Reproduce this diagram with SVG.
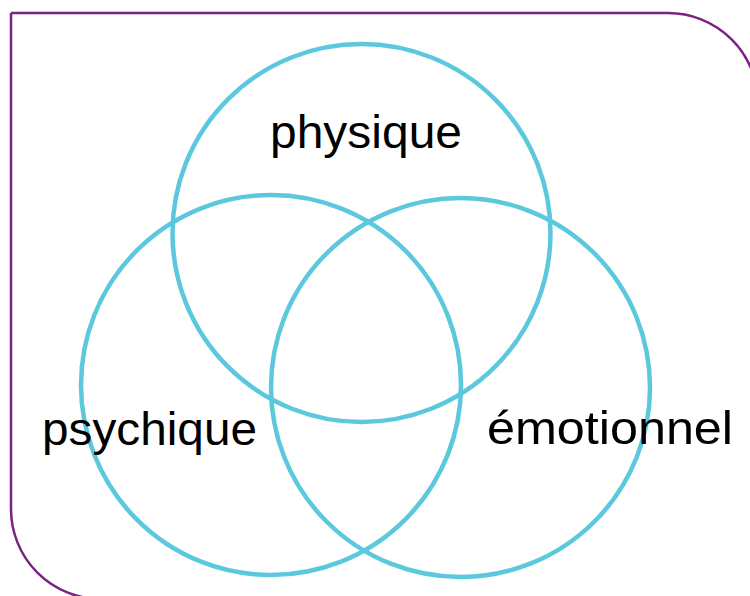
<svg xmlns="http://www.w3.org/2000/svg" width="750" height="596" viewBox="0 0 750 596">
<style>
.frame{fill:none;stroke:#7B2383;stroke-width:2.5}
.c{fill:none;stroke:#5BC8DD;stroke-width:4.5}
.t{font-family:"Liberation Sans",Arial,sans-serif;font-size:47px;fill:#000}
</style>
<rect width="750" height="596" fill="#fff"/>
<path class="frame" d="M11,13 H668 A90,90 0 0 1 758,103 V620 M11,13 V509 A90,90 0 0 0 101,599 H760"/>
<g id="physique"><circle class="c" cx="361.5" cy="233" r="189"/></g>
<g id="psychique"><circle class="c" cx="271" cy="385" r="190"/></g>
<g id="emotionnel"><circle class="c" cx="460.5" cy="387.5" r="189.5"/></g>
<g id="labels">
<text class="t" x="270" y="148" textLength="192" lengthAdjust="spacingAndGlyphs">physique</text>
<text class="t" x="42" y="445" textLength="215" lengthAdjust="spacingAndGlyphs">psychique</text>
<text class="t" x="487" y="444" textLength="246" lengthAdjust="spacingAndGlyphs">émotionnel</text>
</g>
</svg>
